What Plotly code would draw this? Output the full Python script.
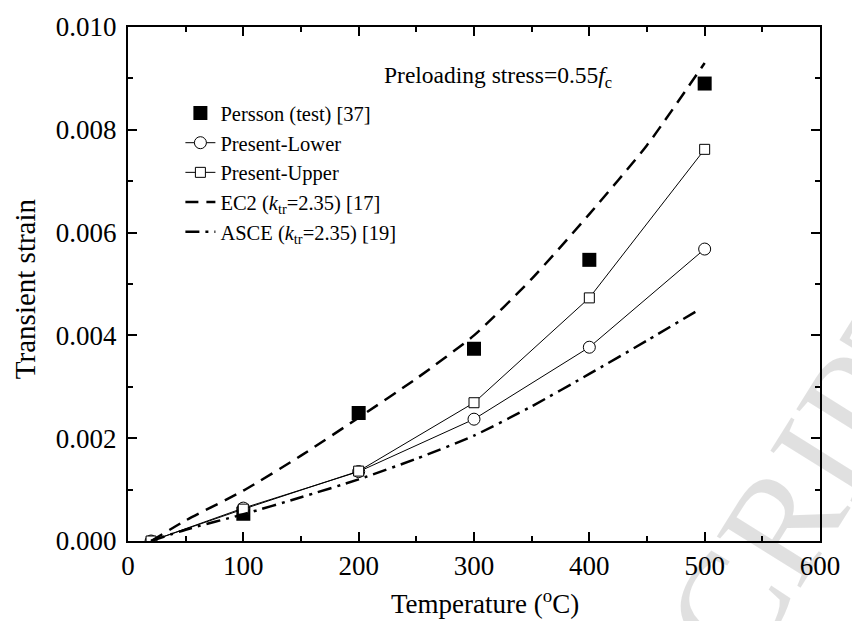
import plotly.graph_objects as go

# Measured transient strain, Persson tests
persson_T = [100, 200, 300, 400, 500]
persson_eps = [0.00053, 0.00249, 0.00374, 0.00547, 0.0089]

# Present model, lower and upper bounds
present_T = [20, 100, 200, 300, 400, 500]
lower_eps = [0.0, 0.00064, 0.00135, 0.00237, 0.00377, 0.00568]
upper_eps = [0.0, 0.00062, 0.00136, 0.00269, 0.00473, 0.00762]

# EC2 code curve (k_tr = 2.35)
ec2_T = [20, 50, 100, 150, 200, 250, 300, 350, 400, 450, 500]
ec2_eps = [0.0, 0.0004, 0.00098, 0.00166, 0.0024, 0.00316, 0.004, 0.0051, 0.00636, 0.0077, 0.0093]

# ASCE code curve (k_tr = 2.35)
asce_T = [20, 50, 100, 150, 200, 250, 300, 350, 400, 450, 495]
asce_eps = [0.0, 0.00022, 0.00052, 0.00085, 0.0012, 0.0016, 0.00205, 0.00262, 0.00325, 0.0039, 0.0045]

x_ticks = [0, 100, 200, 300, 400, 500, 600]
y_ticks = [0.000, 0.002, 0.004, 0.006, 0.008, 0.010]

SERIF = "Liberation Serif, Times New Roman, serif"

# plot-area geometry in page pixels
L, R, T, B = 128, 24, 21, 80
W, H = 852, 621
PW, PH = W - L - R, H - T - B


def px_to_paper(px, py):
    return (px - L) / PW, (H - B - py) / PH


fig = go.Figure()

fig.add_trace(go.Scatter(
    x=persson_T, y=persson_eps, mode="markers", name="Persson (test) [37]",
    marker=dict(symbol="square", size=14, color="black", line=dict(width=0)),
))
fig.add_trace(go.Scatter(
    x=present_T, y=lower_eps, mode="lines+markers", name="Present-Lower",
    line=dict(color="black", width=1),
    marker=dict(symbol="circle", size=12, color="white", line=dict(color="black", width=1)),
))
fig.add_trace(go.Scatter(
    x=present_T, y=upper_eps, mode="lines+markers", name="Present-Upper",
    line=dict(color="black", width=1),
    marker=dict(symbol="square", size=10, color="white", line=dict(color="black", width=1)),
))
fig.add_trace(go.Scatter(
    x=ec2_T, y=ec2_eps, mode="lines", name="EC2 (<i>k</i><sub>tr</sub>=2.35) [17]",
    line=dict(color="black", width=2.5, dash="13px,8px", shape="spline", smoothing=0.6),
))
fig.add_trace(go.Scatter(
    x=asce_T, y=asce_eps, mode="lines", name="ASCE (<i>k</i><sub>tr</sub>=2.35) [19]",
    line=dict(color="black", width=2.5, dash="14px,6px,3px,6px", shape="spline", smoothing=0.6),
))

axis_common = dict(
    showline=True, linecolor="black", linewidth=2, mirror="ticks",
    ticks="inside", ticklen=9, tickwidth=2, tickcolor="black",
    showgrid=False, zeroline=False,
    tickfont=dict(family=SERIF, size=27, color="black"),
)

fig.update_xaxes(
    range=[0, 600], tickvals=x_ticks, ticktext=[str(v) for v in x_ticks],
    minor=dict(dtick=50, tick0=0, ticks="inside", ticklen=5, tickwidth=2, tickcolor="black"),
    **axis_common,
)
fig.update_yaxes(
    range=[0, 0.010], tickvals=y_ticks, ticktext=[f"{v:.3f}" for v in y_ticks],
    minor=dict(dtick=0.001, tick0=0, ticks="inside", ticklen=5, tickwidth=2, tickcolor="black"),
    ticklabelstandoff=4,
    **axis_common,
)

lx, ly = px_to_paper(181, 88)
sx, sy = px_to_paper(502, 72)
xtx, xty = px_to_paper(489, 603)
ytx, yty = px_to_paper(24, 286)
wx, wy = px_to_paper(800, 505)

fig.update_layout(
    width=W, height=H,
    margin=dict(l=L, r=R, t=T, b=B),
    paper_bgcolor="white", plot_bgcolor="white",
    font=dict(family=SERIF, color="black"),
    showlegend=True,
    legend=dict(
        x=lx, y=ly, xanchor="left", yanchor="top",
        bgcolor="rgba(0,0,0,0)", borderwidth=0,
        font=dict(family=SERIF, size=20.5, color="black"),
        tracegroupgap=0,
    ),
    annotations=[
        dict(text="Preloading stress=0.55<i>f</i><sub>c</sub>", x=sx, y=sy,
             xref="paper", yref="paper", showarrow=False,
             xanchor="center", yanchor="middle",
             font=dict(family=SERIF, size=23.5, color="black")),
        dict(text="Temperature (<sup>o</sup>C)", x=xtx, y=xty,
             xref="paper", yref="paper", showarrow=False,
             xanchor="center", yanchor="middle",
             font=dict(family=SERIF, size=27, color="black")),
        dict(text="Transient strain", x=ytx, y=yty,
             xref="paper", yref="paper", showarrow=False, textangle=-90,
             xanchor="center", yanchor="middle",
             font=dict(family=SERIF, size=29, color="black")),
        # faint diagonal manuscript watermark
        dict(text="SCRIPT", x=wx, y=wy, xref="paper", yref="paper",
             showarrow=False, textangle=-58, xanchor="center", yanchor="middle",
             font=dict(family=SERIF, size=150, color="rgba(0,0,0,0.12)")),
    ],
)

fig.write_html("out.html")
